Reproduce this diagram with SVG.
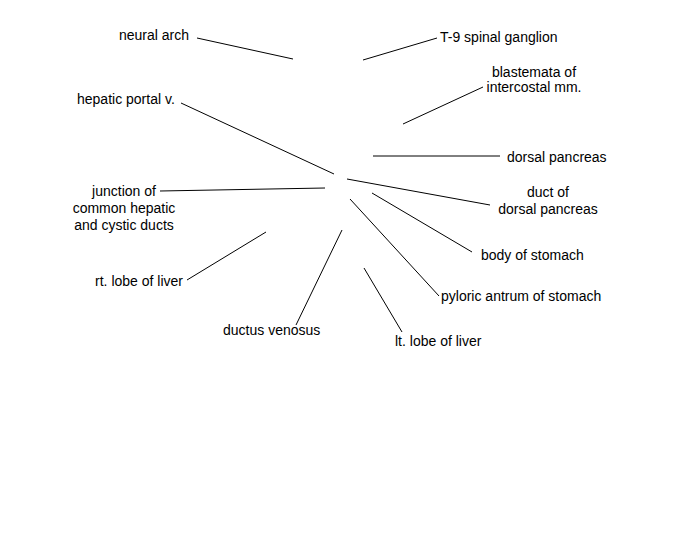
<svg xmlns="http://www.w3.org/2000/svg" width="675" height="550" viewBox="0 0 675 550">
<style>
text{font-family:"Liberation Sans",Arial,sans-serif;font-size:14px;fill:#000}
.m{text-anchor:middle}
.e{text-anchor:end}
#connectors line{stroke:#000;stroke-width:1;fill:none}
</style>
<rect width="675" height="550" fill="#fff"/>
<g id="connectors">
<line x1="197" y1="38" x2="293" y2="59"/>
<line x1="363" y1="60" x2="437" y2="38"/>
<line x1="403" y1="124" x2="483" y2="87"/>
<line x1="181" y1="103" x2="334" y2="174"/>
<line x1="373" y1="156" x2="500" y2="156"/>
<line x1="160" y1="191" x2="325" y2="188"/>
<line x1="347" y1="179" x2="490" y2="205"/>
<line x1="372" y1="193" x2="472" y2="252"/>
<line x1="350" y1="199" x2="439" y2="296"/>
<line x1="266" y1="232" x2="187" y2="280"/>
<line x1="342" y1="230" x2="296" y2="325"/>
<line x1="364" y1="268" x2="402" y2="332"/>
</g>
<g id="n-neural-arch"><text class="e" x="189" y="40">neural arch</text></g>
<g id="n-t9"><text x="440" y="42">T-9 spinal ganglion</text></g>
<g id="n-blastemata"><text class="m" x="534" y="77">blastemata of</text><text class="m" x="534" y="92">intercostal mm.</text></g>
<g id="n-hepatic-portal"><text x="77" y="104">hepatic portal v.</text></g>
<g id="n-dorsal-pancreas"><text x="507" y="162">dorsal pancreas</text></g>
<g id="n-junction"><text class="m" x="124" y="196">junction of</text><text class="m" x="124" y="213">common hepatic</text><text class="m" x="124" y="230">and cystic ducts</text></g>
<g id="n-duct"><text class="m" x="548" y="197">duct of</text><text class="m" x="548" y="214">dorsal pancreas</text></g>
<g id="n-body-stomach"><text x="481" y="260">body of stomach</text></g>
<g id="n-pyloric"><text x="441" y="301">pyloric antrum of stomach</text></g>
<g id="n-rt-lobe"><text class="e" x="183" y="286">rt. lobe of liver</text></g>
<g id="n-ductus"><text x="223" y="335">ductus venosus</text></g>
<g id="n-lt-lobe"><text x="395" y="346">lt. lobe of liver</text></g>
</svg>
